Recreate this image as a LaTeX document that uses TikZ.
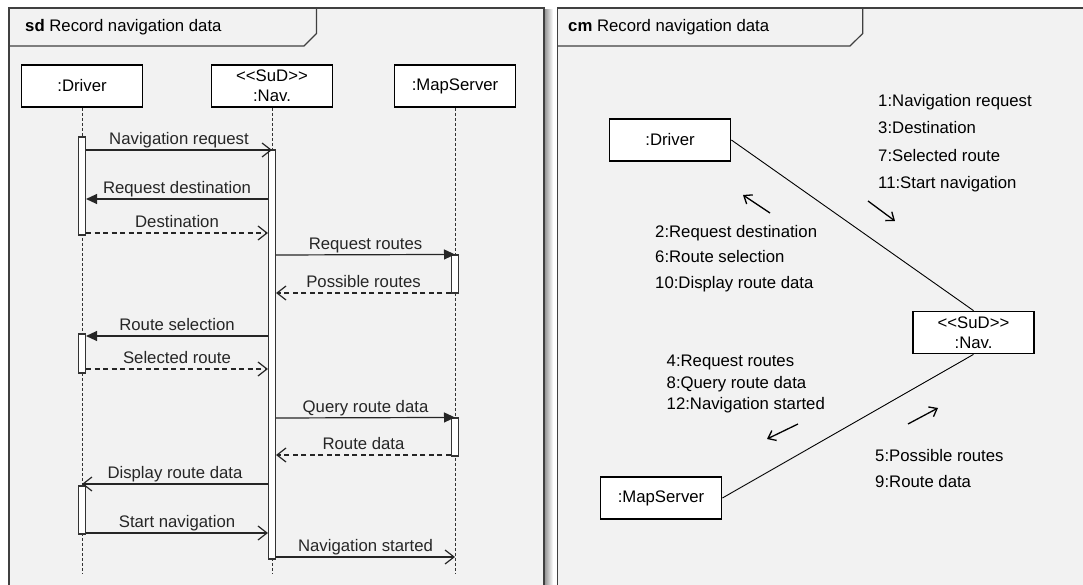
\documentclass[tikz,border=0pt]{standalone}
\usepackage{fontspec}
\setmainfont{Liberation Sans}
\usetikzlibrary{arrows.meta,calc,positioning}
\tikzset{
  umlframe/.style = {draw=black!75, line width=1.8bp, fill=black!5},
  tab/.style      = {draw=black!75, line width=1.2bp},
  obj/.style      = {draw, line width=1.8bp, fill=white, minimum width=121bp,
                     minimum height=42bp, inner sep=0pt, align=center},
  life/.style     = {black!80, line width=0.9bp, dash pattern=on 3bp off 2bp},
  bar/.style      = {draw=black!80, line width=1.1bp, fill=white, minimum width=7bp,
                     inner sep=0pt},
  call/.style     = {line width=1.2bp, black!85, -{Triangle[length=11bp,width=10bp]}},
  send/.style     = {line width=1.2bp, black!85, -{Straight Barb[length=9bp,width=14bp]}},
  reply/.style    = {send, dash pattern=on 5bp off 3.5bp},
  lbl/.style      = {midway, above, inner sep=2.4bp, text height=0.72em, text depth=0.22em},
  msgtxt/.style   = {anchor=base west, inner sep=0pt},
  dirarrow/.style = {line width=1.3bp, -{Straight Barb[length=7bp,width=11bp]}},
  link/.style     = {line width=0.9bp},
}

\begin{document}
\begin{tikzpicture}[x=1bp,y=-1bp,font=\fontsize{16.8}{19}\selectfont]
  \useasboundingbox (0,0) rectangle (1083,585);
  \clip (0,0) rectangle (1083,585);
  % frames
  \shade[left color=black!40, right color=white] (545,10) rectangle (553,585);
  \path[umlframe] (9,8) rectangle (544,600);
  \path[umlframe] (557.5,8) rectangle (1100,600);
  \draw[tab] (9,46) -- (304,46) -- (316.5,33.5) -- (316.5,8);
  \draw[tab] (557.5,46) -- (850,46) -- (862.7,33.5) -- (862.7,8);
  \node[anchor=base west, inner sep=0pt] (sdtitle) at (25,32) {\textbf{sd} Record navigation data};
  \node[anchor=base west, inner sep=0pt] (cmtitle) at (568,32) {\textbf{cm} Record navigation data};

  % sequence diagram
  \node[obj] (drv) at (82,86) {:Driver};
  \node[obj, font=\fontsize{16.8}{20.5}\selectfont] (nav) at (272,86) {<{}<SuD>{}>\\:Nav.};
  \node[obj] (map) at (455,86) {:MapServer};
  \foreach \o in {drv,nav,map}
    \draw[life] (\o.south) -- (\o.south |- 0,574);

  \node[bar, minimum height=98bp]  (d1) at (82,186) {};
  \node[bar, minimum height=409bp] (nb) at (272,354.5) {};
  \node[bar, minimum height=38bp]  (m1) at (455,274) {};
  \node[bar, minimum height=39bp]  (d2) at (82,353.5) {};
  \node[bar, minimum height=38bp]  (m2) at (455,437) {};
  \node[bar, minimum height=48bp]  (d3) at (82,510) {};

  \draw[send]  (d1.east |- 0,150) -- (nav.south |- 0,150) node[lbl] {Navigation request};
  \draw[call]  (nb.west |- 0,199) -- (d1.east |- 0,199) node[lbl] {Request destination};
  \draw[reply] (d1.east |- 0,233) -- (nb.west |- 0,233) node[lbl] {Destination};
  \draw[call]  (nb.east |- 0,255) -- (m1.north) node[lbl] {Request routes};
  \draw[reply] (m1.west |- 0,293) -- (nb.east |- 0,293) node[lbl] {Possible routes};
  \draw[call]  (nb.west |- 0,336) -- (d2.east |- 0,336) node[lbl] {Route selection};
  \draw[reply] (d2.east |- 0,369) -- (nb.west |- 0,369) node[lbl] {Selected route};
  \draw[call]  (nb.east |- 0,418) -- (m2.north) node[lbl] {Query route data};
  \draw[reply] (m2.west |- 0,455) -- (nb.east |- 0,455) node[lbl] {Route data};
  \draw[send]  (nb.west |- 0,484) -- (drv.south |- 0,484) node[lbl] {Display route data};
  \draw[send]  (d3.east |- 0,533) -- (nb.west |- 0,533) node[lbl] {Start navigation};
  \draw[send]  (nb.east |- 0,557) -- (map.south |- 0,557) node[lbl] {Navigation started};

  % communication diagram
  \node[obj] (cdrv) at (670,140) {:Driver};
  \node[obj, font=\fontsize{16.8}{20.5}\selectfont] (cnav) at (973.5,332.5) {<{}<SuD>{}>\\:Nav.};
  \node[obj] (cmap) at (661,498) {:MapServer};
  \draw[link] (cdrv.east) -- (cnav.north);
  \draw[link] (cnav.south) -- (cmap.east);

  \coordinate (up1)  at (770,213);   \coordinate (up2)  at (743,195);
  \coordinate (dn1)  at (868,201);   \coordinate (dn2)  at (895,221);
  \coordinate (bk1)  at (798,424);   \coordinate (bk2)  at (767,439);
  \coordinate (fw1)  at (908,424);   \coordinate (fw2)  at (938,408);
  \draw[dirarrow] (up1) -- (up2);
  \draw[dirarrow] (dn1) -- (dn2);
  \draw[dirarrow] (bk1) -- (bk2);
  \draw[dirarrow] (fw1) -- (fw2);

  \foreach \t [count=\i from 0] in {1:Navigation request,3:Destination,7:Selected route,11:Start navigation}
    \node[msgtxt] (tonav\i) at (878,106.5+27.4*\i) {\t};
  \foreach \t [count=\i from 0] in {2:Request destination,6:Route selection,10:Display route data}
    \node[msgtxt] (todrv\i) at (655,237.5+25.3*\i) {\t};
  \foreach \t [count=\i from 0] in {4:Request routes,8:Query route data,12:Navigation started}
    \node[msgtxt] (tomap\i) at (666.5,366.5+21.7*\i) {\t};
  \foreach \t [count=\i from 0] in {5:Possible routes,9:Route data}
    \node[msgtxt] (fromap\i) at (875,461.5+25.6*\i) {\t};
\end{tikzpicture}
\end{document}
